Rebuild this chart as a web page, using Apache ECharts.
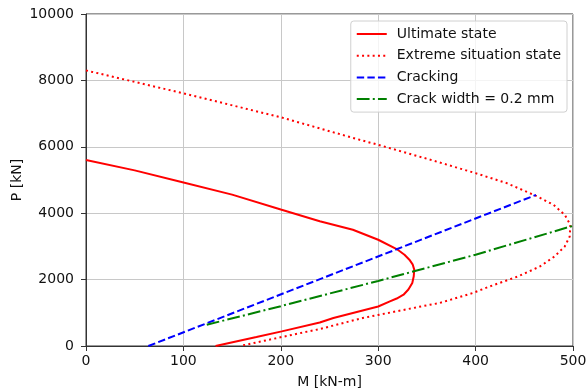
<!DOCTYPE html>
<html>
<head>
<meta charset="utf-8">
<script src="https://cdn.jsdelivr.net/npm/echarts@6/dist/echarts.min.js"></script>
<style>
html,body{margin:0;padding:0;background:#fff;}
#chart{width:587px;height:391px;}
</style>
</head>
<body>
<div id="chart"></div>
<script>
// Data (M [kN-m], P [kN])
const seriesNames = ['Ultimate state', 'Extreme situation state', 'Cracking', 'Crack width = 0.2 mm'];

const ultimateM = [0, 50, 97, 150, 200, 240, 274, 300, 319, 327, 332, 335.5, 337, 336.5, 335, 331, 326, 319, 312, 300, 254, 240, 201, 175, 133];
const ultimateP = [5600, 5290, 4950, 4560, 4110, 3760, 3500, 3200, 2920, 2750, 2600, 2450, 2300, 2100, 1900, 1700, 1545, 1430, 1343, 1190, 843, 710, 440, 270, 0];

const extremeM = [0, 100, 200, 281, 300, 350, 400, 432, 462, 480, 491.5, 497.3, 496.6, 491.5, 481, 466, 443.5, 414.5, 397, 363, 353, 284, 240, 201, 158];
const extremeP = [8300, 7610, 6890, 6210, 6060, 5640, 5206, 4905, 4523, 4252, 3951, 3650, 3298, 2997, 2696, 2395, 2095, 1794, 1595, 1294, 1243, 843, 511, 271, 0];

const crackingM = [64, 462];
const crackingP = [0, 4550];

const crackWidthM = [124, 200, 300, 400, 500];
const crackWidthP = [640, 1200, 1960, 2750, 3620];

const xTicks = [0, 100, 200, 300, 400, 500];
const yTicks = [0, 2000, 4000, 6000, 8000, 10000];

function pairs(xs, ys) { return xs.map((x, i) => [x, ys[i]]); }

const FONT = 'DejaVu Sans';
const FS = 14;
const TXT = '#111';
const chart = echarts.init(document.getElementById('chart'), null, {renderer: 'canvas'});

const lw = 2;
chart.setOption({
  animation: false,
  backgroundColor: '#fff',
  textStyle: {fontFamily: FONT},
  grid: {left: 86, right: 14, top: 14, bottom: 45, show: true, borderColor: '#333', borderWidth: 1,
         backgroundColor: 'transparent', containLabel: false, outerBoundsMode: 'none'},
  xAxis: {
    type: 'value', min: xTicks[0], max: xTicks[xTicks.length - 1], interval: 100,
    name: 'M [kN-m]', nameLocation: 'middle', nameGap: 29, nameMoveOverlap: false,
    nameTextStyle: {fontFamily: FONT, fontSize: FS, color: TXT},
    axisLine: {show: true, onZero: false, lineStyle: {color: '#333', width: 1}},
    axisTick: {show: true, inside: false, length: 5, lineStyle: {color: '#333', width: 1}},
    axisLabel: {fontFamily: FONT, fontSize: FS, color: TXT, margin: 8, formatter: v => String(v)},
    splitLine: {show: true, lineStyle: {color: '#c8c8c8', width: 1}}
  },
  yAxis: {
    type: 'value', min: yTicks[0], max: yTicks[yTicks.length - 1], interval: 2000,
    name: 'P [kN]', nameLocation: 'middle', nameGap: 62, nameRotate: 90, nameMoveOverlap: false,
    nameTextStyle: {fontFamily: FONT, fontSize: FS, color: TXT},
    axisLine: {show: true, onZero: false, lineStyle: {color: '#333', width: 1}},
    axisTick: {show: true, inside: false, length: 5, lineStyle: {color: '#333', width: 1}},
    axisLabel: {fontFamily: FONT, fontSize: FS, color: TXT, margin: 12, formatter: v => String(v)},
    splitLine: {show: true, lineStyle: {color: '#c8c8c8', width: 1}}
  },
  legend: {
    orient: 'vertical', right: 20, top: 21,
    padding: [6, 6, 6, 5],
    itemWidth: 30, itemHeight: 14, itemGap: 7.7,
    backgroundColor: 'rgba(255,255,255,0.8)', borderColor: '#d0d0d0', borderWidth: 1, borderRadius: 3,
    itemStyle: {opacity: 0},
    formatter: name => '{t|' + name + '}',
    textStyle: {fontFamily: FONT, fontSize: FS, color: TXT, lineHeight: 14,
      rich: {t: {fontFamily: FONT, fontSize: FS, color: TXT, lineHeight: 14, padding: [0, 0, 0, 5]}}},
    data: seriesNames
  },
  series: [
    {name: seriesNames[0], type: 'line', data: pairs(ultimateM, ultimateP), symbol: 'none', showSymbol: false,
     lineStyle: {color: '#ff0000', width: lw, type: 'solid'}, itemStyle: {color: '#ff0000'}, z: 3},
    {name: seriesNames[1], type: 'line', data: pairs(extremeM, extremeP), symbol: 'none', showSymbol: false,
     lineStyle: {color: '#ff0000', width: lw, type: [2, 3.3], cap: 'butt'}, itemStyle: {color: '#ff0000'}, z: 3},
    {name: seriesNames[2], type: 'line', data: pairs(crackingM, crackingP), symbol: 'none', showSymbol: false,
     lineStyle: {color: '#0000ff', width: lw, type: [7.4, 3.2], cap: 'butt'}, itemStyle: {color: '#0000ff'}, z: 3},
    {name: seriesNames[3], type: 'line', data: pairs(crackWidthM, crackWidthP), symbol: 'none', showSymbol: false,
     lineStyle: {color: '#008000', width: lw, type: [12.8, 3.2, 2, 3.2], cap: 'butt'}, itemStyle: {color: '#008000'}, z: 3}
  ]
});
</script>
</body>
</html>
